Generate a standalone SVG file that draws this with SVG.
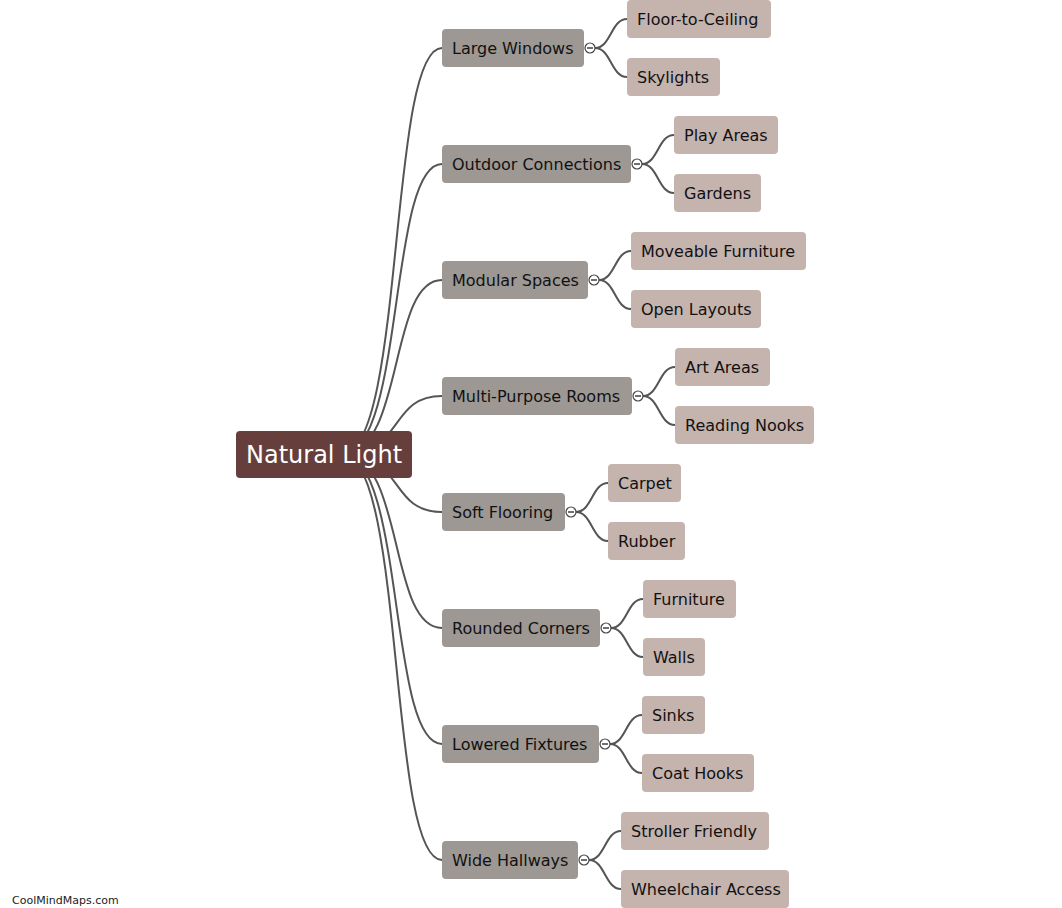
<svg xmlns="http://www.w3.org/2000/svg" width="1062" height="908" viewBox="0 0 1062 908">
<style>
.c{fill:none;stroke:#555;stroke-width:2}
.t{font-family:"DejaVu Sans",Verdana,sans-serif;font-size:16px;fill:#111}
.b{fill:#9d9893}
.l{fill:#c5b3ae}
.k{fill:#fff;stroke:#444;stroke-width:1.2}
.m{stroke:#333;stroke-width:1.4}
</style>
<rect width="1062" height="908" fill="#fff"/>
<g id="connectors">
<path class="c" d="M342 454 C405 454 388 48 442 48"/>
<path class="c" d="M342 454 C405 454 388 164 442 164"/>
<path class="c" d="M342 454 C405 454 388 280 442 280"/>
<path class="c" d="M342 454 C405 454 388 396 442 396"/>
<path class="c" d="M342 454 C405 454 388 512 442 512"/>
<path class="c" d="M342 454 C405 454 388 628 442 628"/>
<path class="c" d="M342 454 C405 454 388 744 442 744"/>
<path class="c" d="M342 454 C405 454 388 860 442 860"/>
<path class="c" d="M595 48 C611 48 611 19 627 19"/>
<path class="c" d="M595 48 C611 48 611 77 627 77"/>
<path class="c" d="M642 164 C658 164 658 135 674 135"/>
<path class="c" d="M642 164 C658 164 658 193 674 193"/>
<path class="c" d="M599 280 C615 280 615 251 631 251"/>
<path class="c" d="M599 280 C615 280 615 309 631 309"/>
<path class="c" d="M643 396 C659 396 659 367 675 367"/>
<path class="c" d="M643 396 C659 396 659 425 675 425"/>
<path class="c" d="M576 512 C592 512 592 483 608 483"/>
<path class="c" d="M576 512 C592 512 592 541 608 541"/>
<path class="c" d="M611 628 C627 628 627 599 643 599"/>
<path class="c" d="M611 628 C627 628 627 657 643 657"/>
<path class="c" d="M610 744 C626 744 626 715 642 715"/>
<path class="c" d="M610 744 C626 744 626 773 642 773"/>
<path class="c" d="M589 860 C605 860 605 831 621 831"/>
<path class="c" d="M589 860 C605 860 605 889 621 889"/>
</g>
<g id="root">
<rect x="236" y="431" width="176" height="47" rx="4" fill="#663f3c"/>
<text x="246" y="463" style="font-family:'DejaVu Sans',Verdana,sans-serif;font-size:24px;fill:#fff">Natural Light</text>
</g>
<g id="n-large-windows"><rect class="b" x="442" y="29" width="142" height="38" rx="4"/><text class="t" x="452" y="54">Large Windows</text><circle class="k" cx="590" cy="48" r="5"/><line class="m" x1="587" y1="48" x2="593" y2="48"/></g>
<g id="n-outdoor"><rect class="b" x="442" y="145" width="189" height="38" rx="4"/><text class="t" x="452" y="170">Outdoor Connections</text><circle class="k" cx="637" cy="164" r="5"/><line class="m" x1="634" y1="164" x2="640" y2="164"/></g>
<g id="n-modular"><rect class="b" x="442" y="261" width="146" height="38" rx="4"/><text class="t" x="452" y="286">Modular Spaces</text><circle class="k" cx="594" cy="280" r="5"/><line class="m" x1="591" y1="280" x2="597" y2="280"/></g>
<g id="n-multi"><rect class="b" x="442" y="377" width="190" height="38" rx="4"/><text class="t" x="452" y="402">Multi-Purpose Rooms</text><circle class="k" cx="638" cy="396" r="5"/><line class="m" x1="635" y1="396" x2="641" y2="396"/></g>
<g id="n-soft"><rect class="b" x="442" y="493" width="123" height="38" rx="4"/><text class="t" x="452" y="518">Soft Flooring</text><circle class="k" cx="571" cy="512" r="5"/><line class="m" x1="568" y1="512" x2="574" y2="512"/></g>
<g id="n-rounded"><rect class="b" x="442" y="609" width="158" height="38" rx="4"/><text class="t" x="452" y="634">Rounded Corners</text><circle class="k" cx="606" cy="628" r="5"/><line class="m" x1="603" y1="628" x2="609" y2="628"/></g>
<g id="n-lowered"><rect class="b" x="442" y="725" width="157" height="38" rx="4"/><text class="t" x="452" y="750">Lowered Fixtures</text><circle class="k" cx="605" cy="744" r="5"/><line class="m" x1="602" y1="744" x2="608" y2="744"/></g>
<g id="n-wide"><rect class="b" x="442" y="841" width="136" height="38" rx="4"/><text class="t" x="452" y="866">Wide Hallways</text><circle class="k" cx="584" cy="860" r="5"/><line class="m" x1="581" y1="860" x2="587" y2="860"/></g>
<g id="l-floor"><rect class="l" x="627" y="0" width="144" height="38" rx="4"/><text class="t" x="637" y="25">Floor-to-Ceiling</text></g>
<g id="l-sky"><rect class="l" x="627" y="58" width="93" height="38" rx="4"/><text class="t" x="637" y="83">Skylights</text></g>
<g id="l-play"><rect class="l" x="674" y="116" width="104" height="38" rx="4"/><text class="t" x="684" y="141">Play Areas</text></g>
<g id="l-gardens"><rect class="l" x="674" y="174" width="87" height="38" rx="4"/><text class="t" x="684" y="199">Gardens</text></g>
<g id="l-moveable"><rect class="l" x="631" y="232" width="175" height="38" rx="4"/><text class="t" x="641" y="257">Moveable Furniture</text></g>
<g id="l-open"><rect class="l" x="631" y="290" width="130" height="38" rx="4"/><text class="t" x="641" y="315">Open Layouts</text></g>
<g id="l-art"><rect class="l" x="675" y="348" width="95" height="38" rx="4"/><text class="t" x="685" y="373">Art Areas</text></g>
<g id="l-reading"><rect class="l" x="675" y="406" width="139" height="38" rx="4"/><text class="t" x="685" y="431">Reading Nooks</text></g>
<g id="l-carpet"><rect class="l" x="608" y="464" width="73" height="38" rx="4"/><text class="t" x="618" y="489">Carpet</text></g>
<g id="l-rubber"><rect class="l" x="608" y="522" width="77" height="38" rx="4"/><text class="t" x="618" y="547">Rubber</text></g>
<g id="l-furniture"><rect class="l" x="643" y="580" width="93" height="38" rx="4"/><text class="t" x="653" y="605">Furniture</text></g>
<g id="l-walls"><rect class="l" x="643" y="638" width="62" height="38" rx="4"/><text class="t" x="653" y="663">Walls</text></g>
<g id="l-sinks"><rect class="l" x="642" y="696" width="63" height="38" rx="4"/><text class="t" x="652" y="721">Sinks</text></g>
<g id="l-coat"><rect class="l" x="642" y="754" width="112" height="38" rx="4"/><text class="t" x="652" y="779">Coat Hooks</text></g>
<g id="l-stroller"><rect class="l" x="621" y="812" width="148" height="38" rx="4"/><text class="t" x="631" y="837">Stroller Friendly</text></g>
<g id="l-wheelchair"><rect class="l" x="621" y="870" width="168" height="38" rx="4"/><text class="t" x="631" y="895">Wheelchair Access</text></g>
<text x="12" y="904" style="font-family:'DejaVu Sans',Verdana,sans-serif;font-size:11px;fill:#222">CoolMindMaps.com</text>
</svg>
